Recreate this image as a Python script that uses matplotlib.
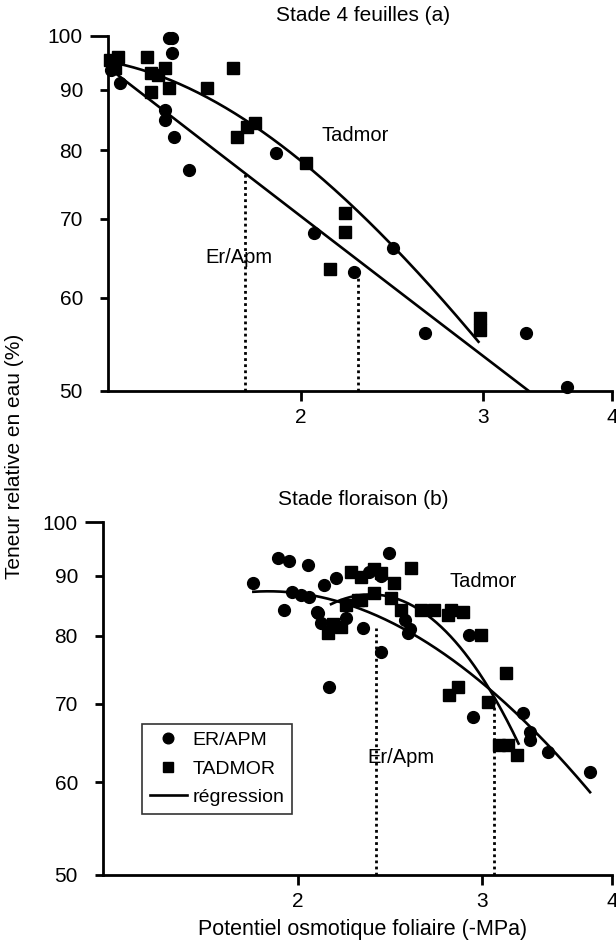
import matplotlib
matplotlib.use("Agg")
import numpy as np
import matplotlib.pyplot as plt
from matplotlib.ticker import FixedLocator, FixedFormatter, NullLocator

plt.rcParams['font.family'] = ['Liberation Sans', 'DejaVu Sans']

# --- Stade 4 feuilles (a) ---
a_er_x = [1.31, 1.335, 1.49, 1.50, 1.50, 1.476, 1.476, 1.505, 1.557, 1.891,
          2.059, 2.252, 2.457, 2.639, 3.30, 3.616]
a_er_y = [93.5, 91.2, 99.6, 99.6, 96.7, 86.5, 84.9, 82.1, 77.0, 79.6,
          68.1, 63.1, 66.1, 56.0, 56.0, 50.4]
a_td_x = [1.305, 1.33, 1.32, 1.417, 1.43, 1.43, 1.453, 1.476, 1.49, 1.621,
          1.718, 1.733, 1.772, 1.804, 2.022, 2.134, 2.206, 2.206, 2.977, 2.977]
a_td_y = [95.4, 96.0, 94.0, 96.0, 93.0, 89.6, 92.7, 93.9, 90.3, 90.3,
          93.9, 82.1, 83.7, 84.4, 78.0, 63.5, 70.8, 68.2, 57.7, 56.3]
# regression curves, points
a_reg_er_x = [1.31, 1.76, 2.25, 2.8, 3.32]
a_reg_er_y = [93.6, 76.5, 65.0, 56.1, 50.0]
a_reg_td_x = [1.31, 1.62, 1.79, 2.01, 2.19, 2.46, 2.69, 2.97]
a_reg_td_y = [94.9, 89.3, 83.5, 78.5, 72.8, 66.1, 61.2, 54.9]
a_dot_x = [1.765, 2.27]
a_dot_top = [76.3, 63.0]

# --- Stade floraison (b) ---
b_er_x = [1.812, 1.914, 1.961, 2.044, 1.939, 1.974, 2.013, 2.049, 2.117, 2.174,
          2.085, 2.103, 2.444, 2.339, 2.307, 2.401, 2.548, 2.915, 2.941, 3.289,
          3.341, 3.341, 3.476, 3.811, 2.141, 2.222, 2.089, 2.40, 2.53, 2.56]
b_er_y = [88.7, 93.2, 92.6, 91.9, 84.1, 87.2, 86.7, 86.3, 88.4, 89.6,
          83.8, 82.0, 94.1, 90.7, 81.2, 77.5, 80.4, 80.1, 68.2, 68.7,
          66.2, 65.2, 63.7, 61.2, 72.3, 82.8, 83.6, 90.0, 82.5, 81.0]
b_td_x = [2.136, 2.160, 2.199, 2.222, 2.247, 2.297, 2.364, 2.401, 2.564, 2.470,
          2.454, 2.508, 2.621, 2.698, 2.783, 2.364, 2.282, 2.802, 2.876, 2.993,
          3.162, 2.845, 2.789, 3.040, 3.114, 3.177, 3.246, 2.297]
b_td_y = [80.4, 81.9, 81.4, 85.0, 90.7, 89.8, 91.1, 90.5, 91.4, 88.7,
          86.1, 84.1, 84.1, 84.1, 83.3, 87.0, 85.8, 84.1, 83.8, 80.1,
          74.3, 72.3, 71.2, 70.2, 64.5, 64.5, 63.3, 85.8]
b_reg_er_x = [1.812, 2.013, 2.151, 2.297, 2.508, 2.739, 3.058, 3.341, 3.592, 3.811]
b_reg_er_y = [87.2, 86.8, 86.0, 84.3, 81.2, 77.8, 71.6, 66.9, 62.7, 58.7]
b_reg_td_x = [2.151, 2.349, 2.581, 2.739, 2.972, 3.058, 3.254]
b_reg_td_y = [85.3, 86.1, 85.3, 81.7, 74.5, 71.5, 64.9]
b_dot_x = [2.374, 3.08]
b_dot_top = [81.2, 70.5]

yticks = [50, 60, 70, 80, 90, 100]
xticks = [2, 3, 4]

fig = plt.figure(figsize=(6.16, 9.46), dpi=100)
ax1 = fig.add_axes([0.1753, 0.5867, 0.8182, 0.3753])
ax2 = fig.add_axes([0.1672, 0.0751, 0.8263, 0.3731])


def style(ax):
    ax.set_xscale('log')
    ax.set_yscale('log')
    ax.set_xlim(1.3, 4)
    ax.set_ylim(50, 100)
    ax.xaxis.set_major_locator(FixedLocator(xticks))
    ax.xaxis.set_major_formatter(FixedFormatter([str(t) for t in xticks]))
    ax.yaxis.set_major_locator(FixedLocator(yticks))
    ax.yaxis.set_major_formatter(FixedFormatter([str(t) for t in yticks]))
    ax.xaxis.set_minor_locator(NullLocator())
    ax.yaxis.set_minor_locator(NullLocator())
    for s in ['top', 'right']:
        ax.spines[s].set_visible(False)
    for s in ['left', 'bottom']:
        ax.spines[s].set_linewidth(2.0)
    ax.tick_params(axis='y', length=6, width=2.0, pad=12, labelsize=15)
    ax.tick_params(axis='x', length=7, width=2.0, pad=5, labelsize=15)
    ax.yaxis.get_major_ticks()[-1].tick1line.set_markersize(13)


def smooth_curve(ax, xs, ys, deg):
    # regression drawn as a smooth curve through the read points (log-log)
    lx, ly = np.log10(xs), np.log10(ys)
    c = np.polyfit(lx, ly, deg)
    t = np.linspace(lx[0], lx[-1], 200)
    ax.plot(10 ** t, 10 ** np.polyval(c, t), '-', color='k', lw=1.9)


style(ax1)
style(ax2)

# panel a
ax1.plot(a_er_x, a_er_y, 'o', color='k', ms=8.5, clip_on=False)
ax1.plot(a_td_x, a_td_y, 's', color='k', ms=8.2, clip_on=False)
smooth_curve(ax1, a_reg_er_x, a_reg_er_y, 2)
smooth_curve(ax1, a_reg_td_x, a_reg_td_y, 3)
for x, yt in zip(a_dot_x, a_dot_top):
    ax1.plot([x, x], [50, yt], color='k', lw=2.0, ls=(0, (1, 1.2)))
ax1.text(2.256, 82.4, 'Tadmor', fontsize=14.5, ha='center', va='center')
ax1.text(1.741, 64.9, 'Er/Apm', fontsize=14.5, ha='center', va='center')

# panel b
ax2.plot(b_er_x, b_er_y, 'o', color='k', ms=8.5, label='ER/APM')
ax2.plot(b_td_x, b_td_y, 's', color='k', ms=8.2, label='TADMOR')
smooth_curve(ax2, b_reg_er_x, b_reg_er_y, 3)
smooth_curve(ax2, b_reg_td_x, b_reg_td_y, 3)
ax2.plot([], [], '-', color='k', lw=1.9, label='régression')
for x, yt in zip(b_dot_x, b_dot_top):
    ax2.plot([x, x], [50, yt], color='k', lw=2.0, ls=(0, (1, 1.2)))
ax2.text(3.012, 88.9, 'Tadmor', fontsize=14.5, ha='center', va='center')
ax2.text(2.508, 63.0, 'Er/Apm', fontsize=14.5, ha='center', va='center')

leg = ax2.legend(loc='upper left', bbox_to_anchor=(0.0766, 0.428), borderaxespad=0,
                 fontsize=14, frameon=True, fancybox=False, edgecolor='k',
                 handlelength=1.9, handletextpad=0.3, labelspacing=0.55,
                 borderpad=0.4, markerscale=0.9)
leg.get_frame().set_linewidth(1.2)

fig.text(0.589, 0.984, 'Stade 4 feuilles (a)', fontsize=15, ha='center', va='center')
fig.text(0.589, 0.4715, 'Stade floraison (b)', fontsize=15, ha='center', va='center')
fig.text(0.024, 0.518, 'Teneur relative en eau (%)', fontsize=15, rotation=90,
         ha='center', va='center')
fig.text(0.589, 0.017, 'Potentiel osmotique foliaire (-MPa)', fontsize=15.5,
         ha='center', va='center')

fig.savefig('out.png', dpi=100)
